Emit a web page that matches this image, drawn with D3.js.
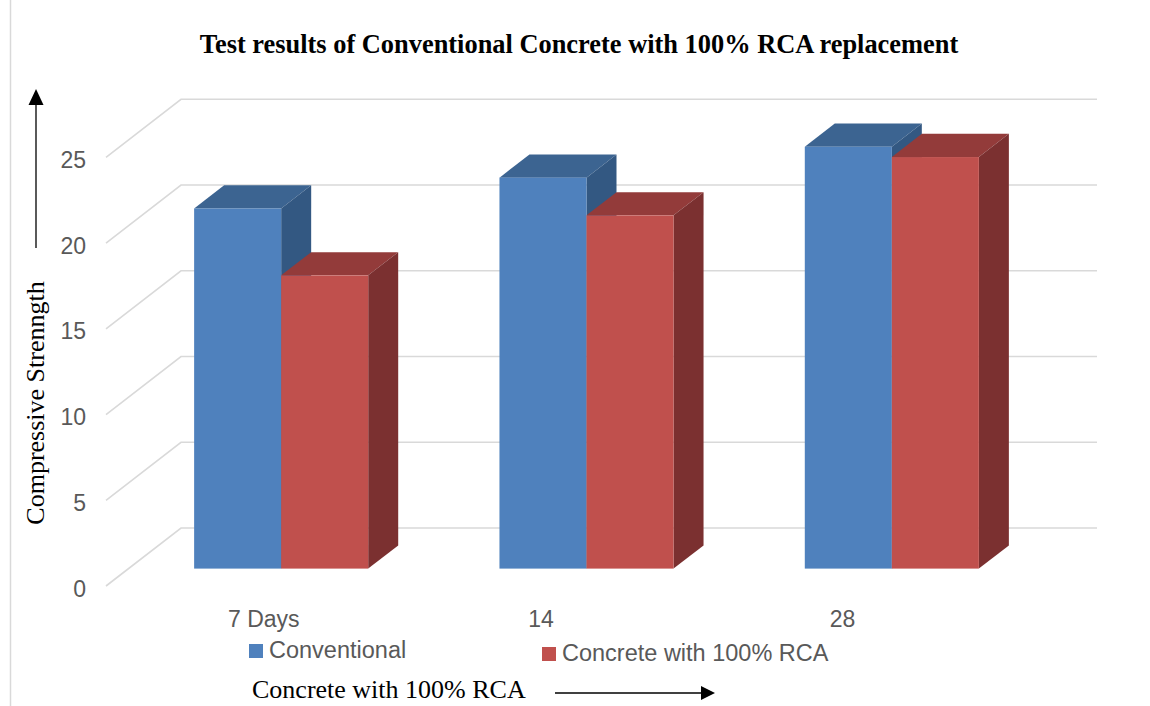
<!DOCTYPE html>
<meta charset="utf-8">
<script src="https://d3js.org/d3.v7.min.js"></script>
<body style="margin:0;background:#fff">
<div id="chart"></div>
</body>
<script>
    // data
    const categories = ["7 Days", "14", "28"];
    const seriesNames = ["Conventional", "Concrete with 100% RCA"];
    const conventional = [21, 22.8, 24.6];
    const rca100 = [17.1, 20.6, 24];
    const yTicks = [0, 5, 10, 15, 20, 25];

    const seriesValues = [conventional, rca100];
    const colors = [
        {front: "#4f81bd", top: "#3c6491", side: "#335882"},
        {front: "#c0504d", top: "#933b3a", side: "#7b3030"}
    ];

    const W = 1150, H = 706;
    // back wall of the 3d plot, and the offset that brings the back to the front
    const wall = {left: 181, right: 1097, bottom: 528, top: 99.3};
    const depth = {x: -75, y: 58};
    const barFront = 0.7, barBack = 0.3;   // fraction of the depth vector

    var svg = d3.select("#chart")
        .append("svg")
        .attr("width", W)
        .attr("height", H)
        .style("font-family", "'Liberation Sans', Arial, sans-serif");

    var y = d3.scaleLinear()
        .domain([0, 25])
        .range([wall.bottom, wall.top]);

    var x0 = d3.scaleBand()
        .domain(categories)
        .range([wall.left, wall.right]);

    var x1 = d3.scaleBand()
        .domain(seriesNames)
        .range([0, x0.bandwidth()])
        .paddingOuter(0.754);

    // frame line on the left
    svg.append("line")
        .attr("x1", 10.5).attr("x2", 10.5)
        .attr("y1", 0).attr("y2", H)
        .style("stroke", "#d9d9d9")
        .style("stroke-width", 1.5);

    // gridlines: back wall + side wall diagonal
    var grid = svg.append("g");
    grid.selectAll(".gw")
        .data(yTicks)
        .enter()
        .append("polyline")
        .attr("points", function (d) {
            return [
                [wall.left + depth.x, y(d) + depth.y],
                [wall.left, y(d)],
                [wall.right, y(d)]
            ].join(" ");
        })
        .style("fill", "none")
        .style("stroke", "#d9d9d9")
        .style("stroke-width", 1.6);

    // tick labels
    svg.append("g")
        .selectAll("text")
        .data(yTicks)
        .enter()
        .append("text")
        .attr("x", 86)
        .attr("y", function (d) { return y(d) + depth.y + 2.5; })
        .attr("text-anchor", "end")
        .attr("dominant-baseline", "central")
        .style("font-size", "23px")
        .style("fill", "#595959")
        .text(function (d) { return d; });

    // bars
    var fx = depth.x * barFront, fy = depth.y * barFront;
    var bx = depth.x * barBack, by = depth.y * barBack;

    var bars = [];
    categories.forEach(function (c, i) {
        seriesNames.forEach(function (s, j) {
            bars.push({cat: c, series: s, j: j, value: seriesValues[j][i]});
        });
    });

    var barG = svg.append("g")
        .selectAll("g")
        .data(bars)
        .enter()
        .append("g");

    barG.each(function (d) {
        var g = d3.select(this);
        var xl = x0(d.cat) + x1(d.series);
        var xr = xl + x1.bandwidth();
        var yv = y(d.value), yb = y(0);
        var col = colors[d.j];

        g.append("polygon")
            .attr("points", [
                [xl + fx, yv + fy], [xr + fx, yv + fy],
                [xr + bx, yv + by], [xl + bx, yv + by]
            ].join(" "))
            .style("fill", col.top);

        g.append("polygon")
            .attr("points", [
                [xr + fx, yv + fy], [xr + bx, yv + by],
                [xr + bx, yb + by], [xr + fx, yb + fy]
            ].join(" "))
            .style("fill", col.side);

        g.append("rect")
            .attr("x", xl + fx)
            .attr("y", yv + fy)
            .attr("width", xr - xl)
            .attr("height", yb - yv)
            .style("fill", col.front);
    });

    // category labels
    var labelShift = [47, 42, 38];
    svg.append("g")
        .selectAll("text")
        .data(categories)
        .enter()
        .append("text")
        .attr("x", function (d, i) { return x0(d) + labelShift[i]; })
        .attr("y", 627)
        .style("font-size", "23px")
        .style("fill", "#595959")
        .text(function (d) { return d; });

    // legend
    var legendPos = [{x: 249, y: 644}, {x: 542, y: 647}];
    var legend = svg.append("g")
        .selectAll("g")
        .data(seriesNames)
        .enter()
        .append("g")
        .attr("transform", function (d, i) {
            return "translate(" + legendPos[i].x + "," + legendPos[i].y + ")";
        });
    legend.append("rect")
        .attr("width", 14)
        .attr("height", 14)
        .style("fill", function (d, i) { return colors[i].front; });
    legend.append("text")
        .attr("x", 20)
        .attr("y", 13.5)
        .style("font-size", "23.5px")
        .style("fill", "#595959")
        .text(function (d) { return d; });

    // title
    svg.append("text")
        .attr("x", 579)
        .attr("y", 53)
        .attr("text-anchor", "middle")
        .style("font-family", "'Liberation Serif', 'Times New Roman', serif")
        .style("font-weight", "bold")
        .style("font-size", "26.4px")
        .text("Test results of Conventional Concrete with 100% RCA replacement");

    // axis titles with arrows
    svg.append("text")
        .attr("transform", "translate(44,403) rotate(-90)")
        .attr("text-anchor", "middle")
        .style("font-family", "'Liberation Serif', 'Times New Roman', serif")
        .style("font-size", "26px")
        .text("Compressive Strenngth");

    svg.append("text")
        .attr("x", 252)
        .attr("y", 698)
        .style("font-family", "'Liberation Serif', 'Times New Roman', serif")
        .style("font-size", "26px")
        .text("Concrete with 100% RCA");

    svg.append("line")
        .attr("x1", 36).attr("x2", 36)
        .attr("y1", 248).attr("y2", 103)
        .style("stroke", "#000")
        .style("stroke-width", 1.3);
    svg.append("polygon")
        .attr("points", "36,89 28.5,105 43.5,105")
        .style("fill", "#000");

    svg.append("line")
        .attr("x1", 555).attr("x2", 703)
        .attr("y1", 693).attr("y2", 693)
        .style("stroke", "#000")
        .style("stroke-width", 1.3);
    svg.append("polygon")
        .attr("points", "715,693 701,686 701,700")
        .style("fill", "#000");
</script>
